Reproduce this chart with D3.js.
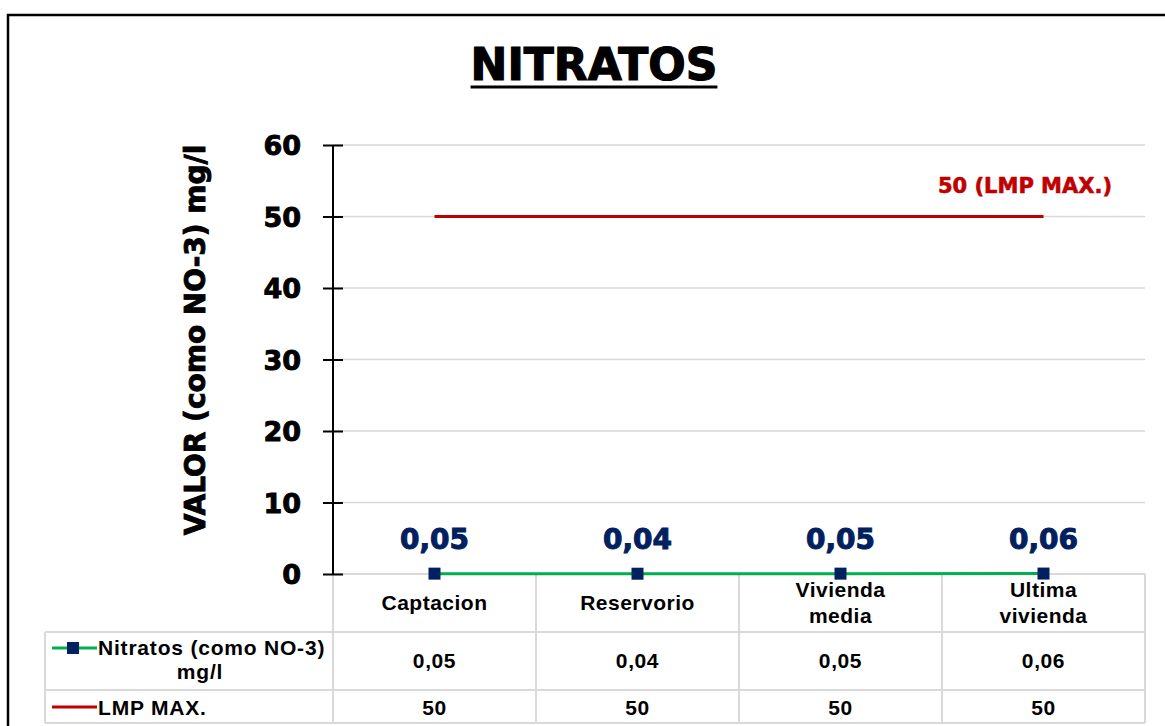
<!DOCTYPE html>
<html><head><meta charset="utf-8">
<script src="https://cdn.jsdelivr.net/npm/d3@7"></script>
<style>body{margin:0;background:#fff}svg{display:block}</style>
</head><body>
<svg id="c" width="1165" height="726"></svg>
<script>
const categories = ["Captacion", "Reservorio", "Vivienda media", "Ultima vivienda"];
const categoryLines = [["Captacion"], ["Reservorio"], ["Vivienda", "media"], ["Ultima", "vivienda"]];
const nitratos = [0.05, 0.04, 0.05, 0.06];
const lmp = [50, 50, 50, 50];
const yTicks = [0, 10, 20, 30, 40, 50, 60];
const seriesNames = [["Nitratos (como NO-3)", "mg/l"], ["LMP MAX."]];
const title = "NITRATOS";
const yTitle = "VALOR (como NO-3) mg/l";
const lmpLabel = "50 (LMP MAX.)";

const fmt = v => String(v).replace(".", ",");
const svg = d3.select("#c");
const heavy = "'DejaVu Sans', sans-serif";
const arial = "'Liberation Sans', Arial, sans-serif";
const navy = "#002060", green = "#00b050", red = "#c00000", grid = "#d9d9d9";

// outer frame
svg.append("rect").attr("x", 8).attr("y", 15).attr("width", 1200).attr("height", 800)
  .attr("fill", "none").attr("stroke", "#000").attr("stroke-width", 2.5);

// title
const t = svg.append("text").attr("x", 594).attr("y", 80).attr("text-anchor", "middle")
  .attr("font-family", heavy).attr("font-weight", "bold").attr("font-size", 44)
  .attr("stroke", "#000").attr("stroke-width", 1.2).text(title);
const tb = t.node().getBBox();
svg.append("line").attr("x1", tb.x).attr("x2", tb.x + tb.width).attr("y1", 87).attr("y2", 87)
  .attr("stroke", "#000").attr("stroke-width", 3);

const x = d3.scaleBand().domain(categories).range([333, 1145]);
const y = d3.scaleLinear().domain([0, 60]).range([574, 145]);

// gridlines
svg.append("g").selectAll("line").data(yTicks.filter(d => d > 0)).join("line")
  .attr("x1", 333).attr("x2", 1145).attr("y1", d => y(d)).attr("y2", d => y(d))
  .attr("stroke", grid).attr("stroke-width", 1.5);

// table
const tableTop = 574, row1 = 632, row2 = 690, row3 = 723;
const tg = svg.append("g").attr("stroke", grid).attr("stroke-width", 2);
[tableTop].forEach(yy => tg.append("line").attr("x1", 333).attr("x2", 1145).attr("y1", yy).attr("y2", yy));
[row1, row2, row3].forEach(yy => tg.append("line").attr("x1", 45).attr("x2", 1145).attr("y1", yy).attr("y2", yy));
const xs = categories.map(c => x(c)).concat([x.range()[1]]);
xs.forEach(xx => tg.append("line").attr("x1", xx).attr("x2", xx).attr("y1", tableTop).attr("y2", row3));
tg.append("line").attr("x1", 45).attr("x2", 45).attr("y1", row1).attr("y2", row3);

// y axis
const yAxis = d3.axisLeft(y).tickValues(yTicks).tickSize(10).tickPadding(22).tickFormat(d3.format("d"));
const ga = svg.append("g").attr("transform", "translate(333,0)").call(yAxis);
ga.select(".domain").attr("stroke", "#000").attr("stroke-width", 2).attr("d", "M0,145V574");
ga.selectAll(".tick line").attr("stroke", "#000").attr("stroke-width", 2).attr("x1", 10);
ga.selectAll(".tick text").attr("font-family", heavy).attr("font-weight", "bold")
  .attr("font-size", 27).attr("fill", "#000").attr("stroke", "#000").attr("stroke-width", 0.9).attr("dy", "0.36em");

// y title
svg.append("text").attr("transform", "translate(205,340) rotate(-90)").attr("text-anchor", "middle")
  .attr("font-family", heavy).attr("font-weight", "bold").attr("font-size", 28)
  .attr("stroke", "#000").attr("stroke-width", 0.9).text(yTitle);

// LMP line
const line = d3.line().x((d, i) => x(categories[i]) + x.bandwidth() / 2).y(d => y(d));
svg.append("path").datum(lmp).attr("d", line).attr("fill", "none").attr("stroke", red).attr("stroke-width", 3);
svg.append("text").attr("x", 1025).attr("y", 193).attr("text-anchor", "middle")
  .attr("font-family", heavy).attr("font-weight", "bold").attr("font-size", 21).attr("fill", red)
  .attr("stroke", red).attr("stroke-width", 0.6).text(lmpLabel);

// Nitratos line
svg.append("path").datum(nitratos).attr("d", line).attr("fill", "none").attr("stroke", green).attr("stroke-width", 3);
svg.append("g").selectAll("rect").data(nitratos).join("rect")
  .attr("x", (d, i) => x(categories[i]) + x.bandwidth() / 2 - 6).attr("y", d => y(d) - 6)
  .attr("width", 12).attr("height", 12).attr("fill", navy);
svg.append("g").selectAll("text").data(nitratos).join("text")
  .attr("x", (d, i) => x(categories[i]) + x.bandwidth() / 2).attr("y", 549).attr("text-anchor", "middle")
  .attr("font-family", heavy).attr("font-weight", "bold").attr("font-size", 28).attr("fill", navy)
  .attr("stroke", navy).attr("stroke-width", 1).text(d => fmt(d));

// category labels
const cg = svg.append("g").attr("font-family", arial).attr("font-weight", "bold").attr("font-size", 21)
  .attr("letter-spacing", 0.5).attr("text-anchor", "middle");
categoryLines.forEach((lines, i) => {
  const cx = x(categories[i]) + x.bandwidth() / 2;
  const base = lines.length === 1 ? 610 : 597;
  lines.forEach((l, j) => cg.append("text").attr("x", cx).attr("y", base + j * 26).text(l));
});

// table values
const vg = svg.append("g").attr("font-family", arial).attr("font-weight", "bold").attr("font-size", 21)
  .attr("letter-spacing", 0.6).attr("text-anchor", "middle");
nitratos.forEach((v, i) => vg.append("text").attr("x", x(categories[i]) + x.bandwidth() / 2).attr("y", 668).text(fmt(v)));
lmp.forEach((v, i) => vg.append("text").attr("x", x(categories[i]) + x.bandwidth() / 2).attr("y", 715).text(fmt(v)));

// legend cells
const lg = svg.append("g").attr("font-family", arial).attr("font-weight", "bold").attr("font-size", 21).attr("letter-spacing", 0.8);
lg.append("line").attr("x1", 52).attr("x2", 97).attr("y1", 648).attr("y2", 648).attr("stroke", green).attr("stroke-width", 3);
lg.append("rect").attr("x", 67).attr("y", 642).attr("width", 12).attr("height", 12).attr("fill", navy);
lg.append("text").attr("x", 98).attr("y", 655).text(seriesNames[0][0]);
lg.append("text").attr("x", 200).attr("y", 679).attr("text-anchor", "middle").text(seriesNames[0][1]);
lg.append("line").attr("x1", 52).attr("x2", 97).attr("y1", 707).attr("y2", 707).attr("stroke", red).attr("stroke-width", 3);
lg.append("text").attr("x", 98).attr("y", 715).text(seriesNames[1][0]);
</script>
</body></html>
